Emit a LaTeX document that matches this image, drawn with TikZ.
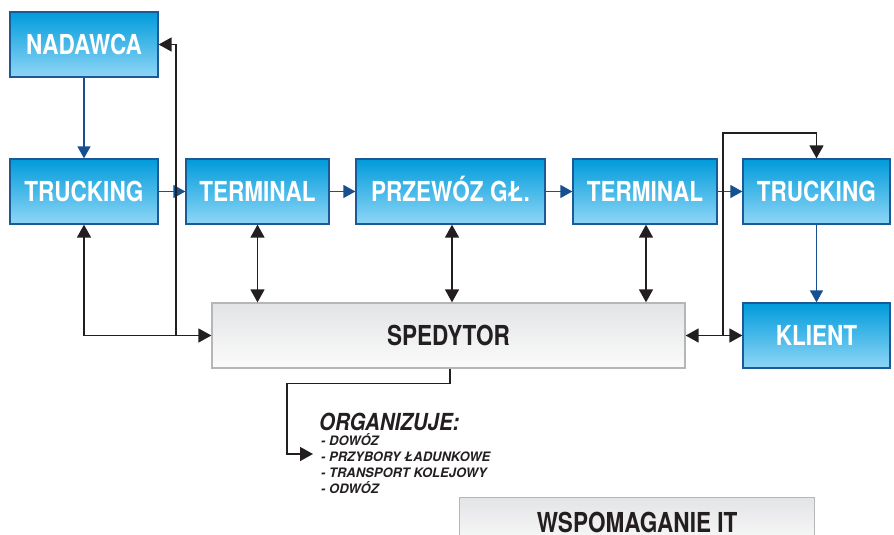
\documentclass[tikz,border=0pt]{standalone}
\usepackage{fontspec}
\usetikzlibrary{arrows.meta}
\newfontfamily\boxfont[FakeStretch=0.82]{TeX Gyre Heros}
\newfontfamily\orgfont[FakeStretch=0.87]{TeX Gyre Heros}
\newfontfamily\listfont{TeX Gyre Heros}
\definecolor{bluetop}{RGB}{0,155,219}
\definecolor{bluebot}{RGB}{143,214,246}
\definecolor{blueedge}{RGB}{27,90,150}
\definecolor{bluearr}{RGB}{22,80,145}
\definecolor{graytop}{RGB}{227,228,230}
\definecolor{graybot}{RGB}{251,251,251}
\definecolor{grayedge}{RGB}{181,182,184}
\definecolor{ink}{RGB}{35,31,32}
\tikzset{
  blkhead/.tip={Triangle[length=13pt,width=14pt]},
  bluehead/.tip={Triangle[length=12pt,width=13pt]},
  boxbase/.style={rectangle, inner sep=0pt, minimum height=65pt,
    text height=20pt, text depth=0pt,
    font=\boxfont\bfseries\fontsize{27.5}{30}\selectfont},
  bluebox/.style={boxbase, draw=blueedge, line width=1.3pt,
    top color=bluetop, bottom color=bluebot, text=white},
  graybox/.style={boxbase, draw=grayedge, line width=1.3pt,
    top color=graytop, bottom color=graybot, text=ink},
  bluelink/.style={draw=bluearr, line width=1.4pt, -{bluehead}},
  blklink/.style={draw=ink, line width=1.5pt},
  listline/.style={anchor=base west, inner sep=0pt, text=ink,
    font=\listfont\bfseries\itshape\fontsize{13}{16}\selectfont}
}
\begin{document}
\begin{tikzpicture}[x=1pt,y=-1pt]
\useasboundingbox (0,0) rectangle (894,535);
\clip (0,0) rectangle (894,535);

% process chain
\node[bluebox, minimum width=148pt] (nad)    at (84,44.5)    {NADAWCA};
\node[bluebox, minimum width=148pt] (truckL) at (84,191.5)   {TRUCKING};
\node[bluebox, minimum width=143pt] (term1)  at (257.5,191.5) {TERMINAL};
\node[bluebox, minimum width=189pt] (prz)    at (450.5,191.5) {PRZEWÓZ GŁ.};
\node[bluebox, minimum width=144pt] (term2)  at (645,191.5)  {TERMINAL};
\node[bluebox, minimum width=147pt] (truckR) at (816.5,191.5) {TRUCKING};
\node[bluebox, minimum width=147pt] (klient) at (816.5,335.5) {KLIENT};

% forwarder and IT support
\node[graybox, minimum width=473pt] (sped) at (448.5,335.5) {SPEDYTOR};
\node[graybox, minimum width=355pt, minimum height=50pt, anchor=north west] (wsp) at (459,497) {WSPOMAGANIE IT};

% main flow
\draw[bluelink] (nad.south) -- (truckL.north);
\draw[bluelink] (truckL.east) -- (term1.west);
\draw[bluelink] (term1.east) -- (prz.west);
\draw[bluelink] (prz.east) -- (term2.west);
\draw[bluelink] (term2.east) -- (truckR.west);
\draw[bluelink] (truckR.south) -- (klient.north);

% forwarder links
\coordinate (jl) at (176,335.5);
\coordinate (jr) at (723,335.5);
\coordinate (jt) at (723,133);
\draw[blklink, {blkhead}-{blkhead}] (truckL.south) |- (sped.west);
\draw[blklink, -{blkhead}] (jl) |- (nad.east);
\draw[blklink, {blkhead}-{blkhead}] (term1.south) -- (term1.south |- sped.north);
\draw[blklink, {blkhead}-{blkhead}] ([xshift=1.5pt]prz.south) -- ([xshift=1.5pt]prz.south |- sped.north);
\draw[blklink, {blkhead}-{blkhead}] ([xshift=1pt]term2.south) -- ([xshift=1pt]term2.south |- sped.north);
\draw[blklink, {blkhead}-{blkhead}] (sped.east) -- (klient.west);
\draw[blklink, -{blkhead}] (jr) -- (jt) -| (truckR.north);

% tasks organised by the forwarder
\coordinate (ob) at (287,383.5);
\coordinate (ot) at (313,454);
\draw[blklink, -{blkhead}] ([xshift=1.5pt]sped.south) |- (ob) |- (ot);

\node[anchor=base west, inner sep=0pt, text=ink,
  font=\orgfont\bfseries\itshape\fontsize{23.5}{26}\selectfont] (org) at (319,430) {ORGANIZUJE:};
\node[listline] (l1) at (321,445.5) {- DOWÓZ};
\node[listline] (l2) at (321,461.5) {- PRZYBORY ŁADUNKOWE};
\node[listline] (l3) at (321,477.5) {- TRANSPORT KOLEJOWY};
\node[listline] (l4) at (321,493.5) {- ODWÓZ};
\end{tikzpicture}
\end{document}
